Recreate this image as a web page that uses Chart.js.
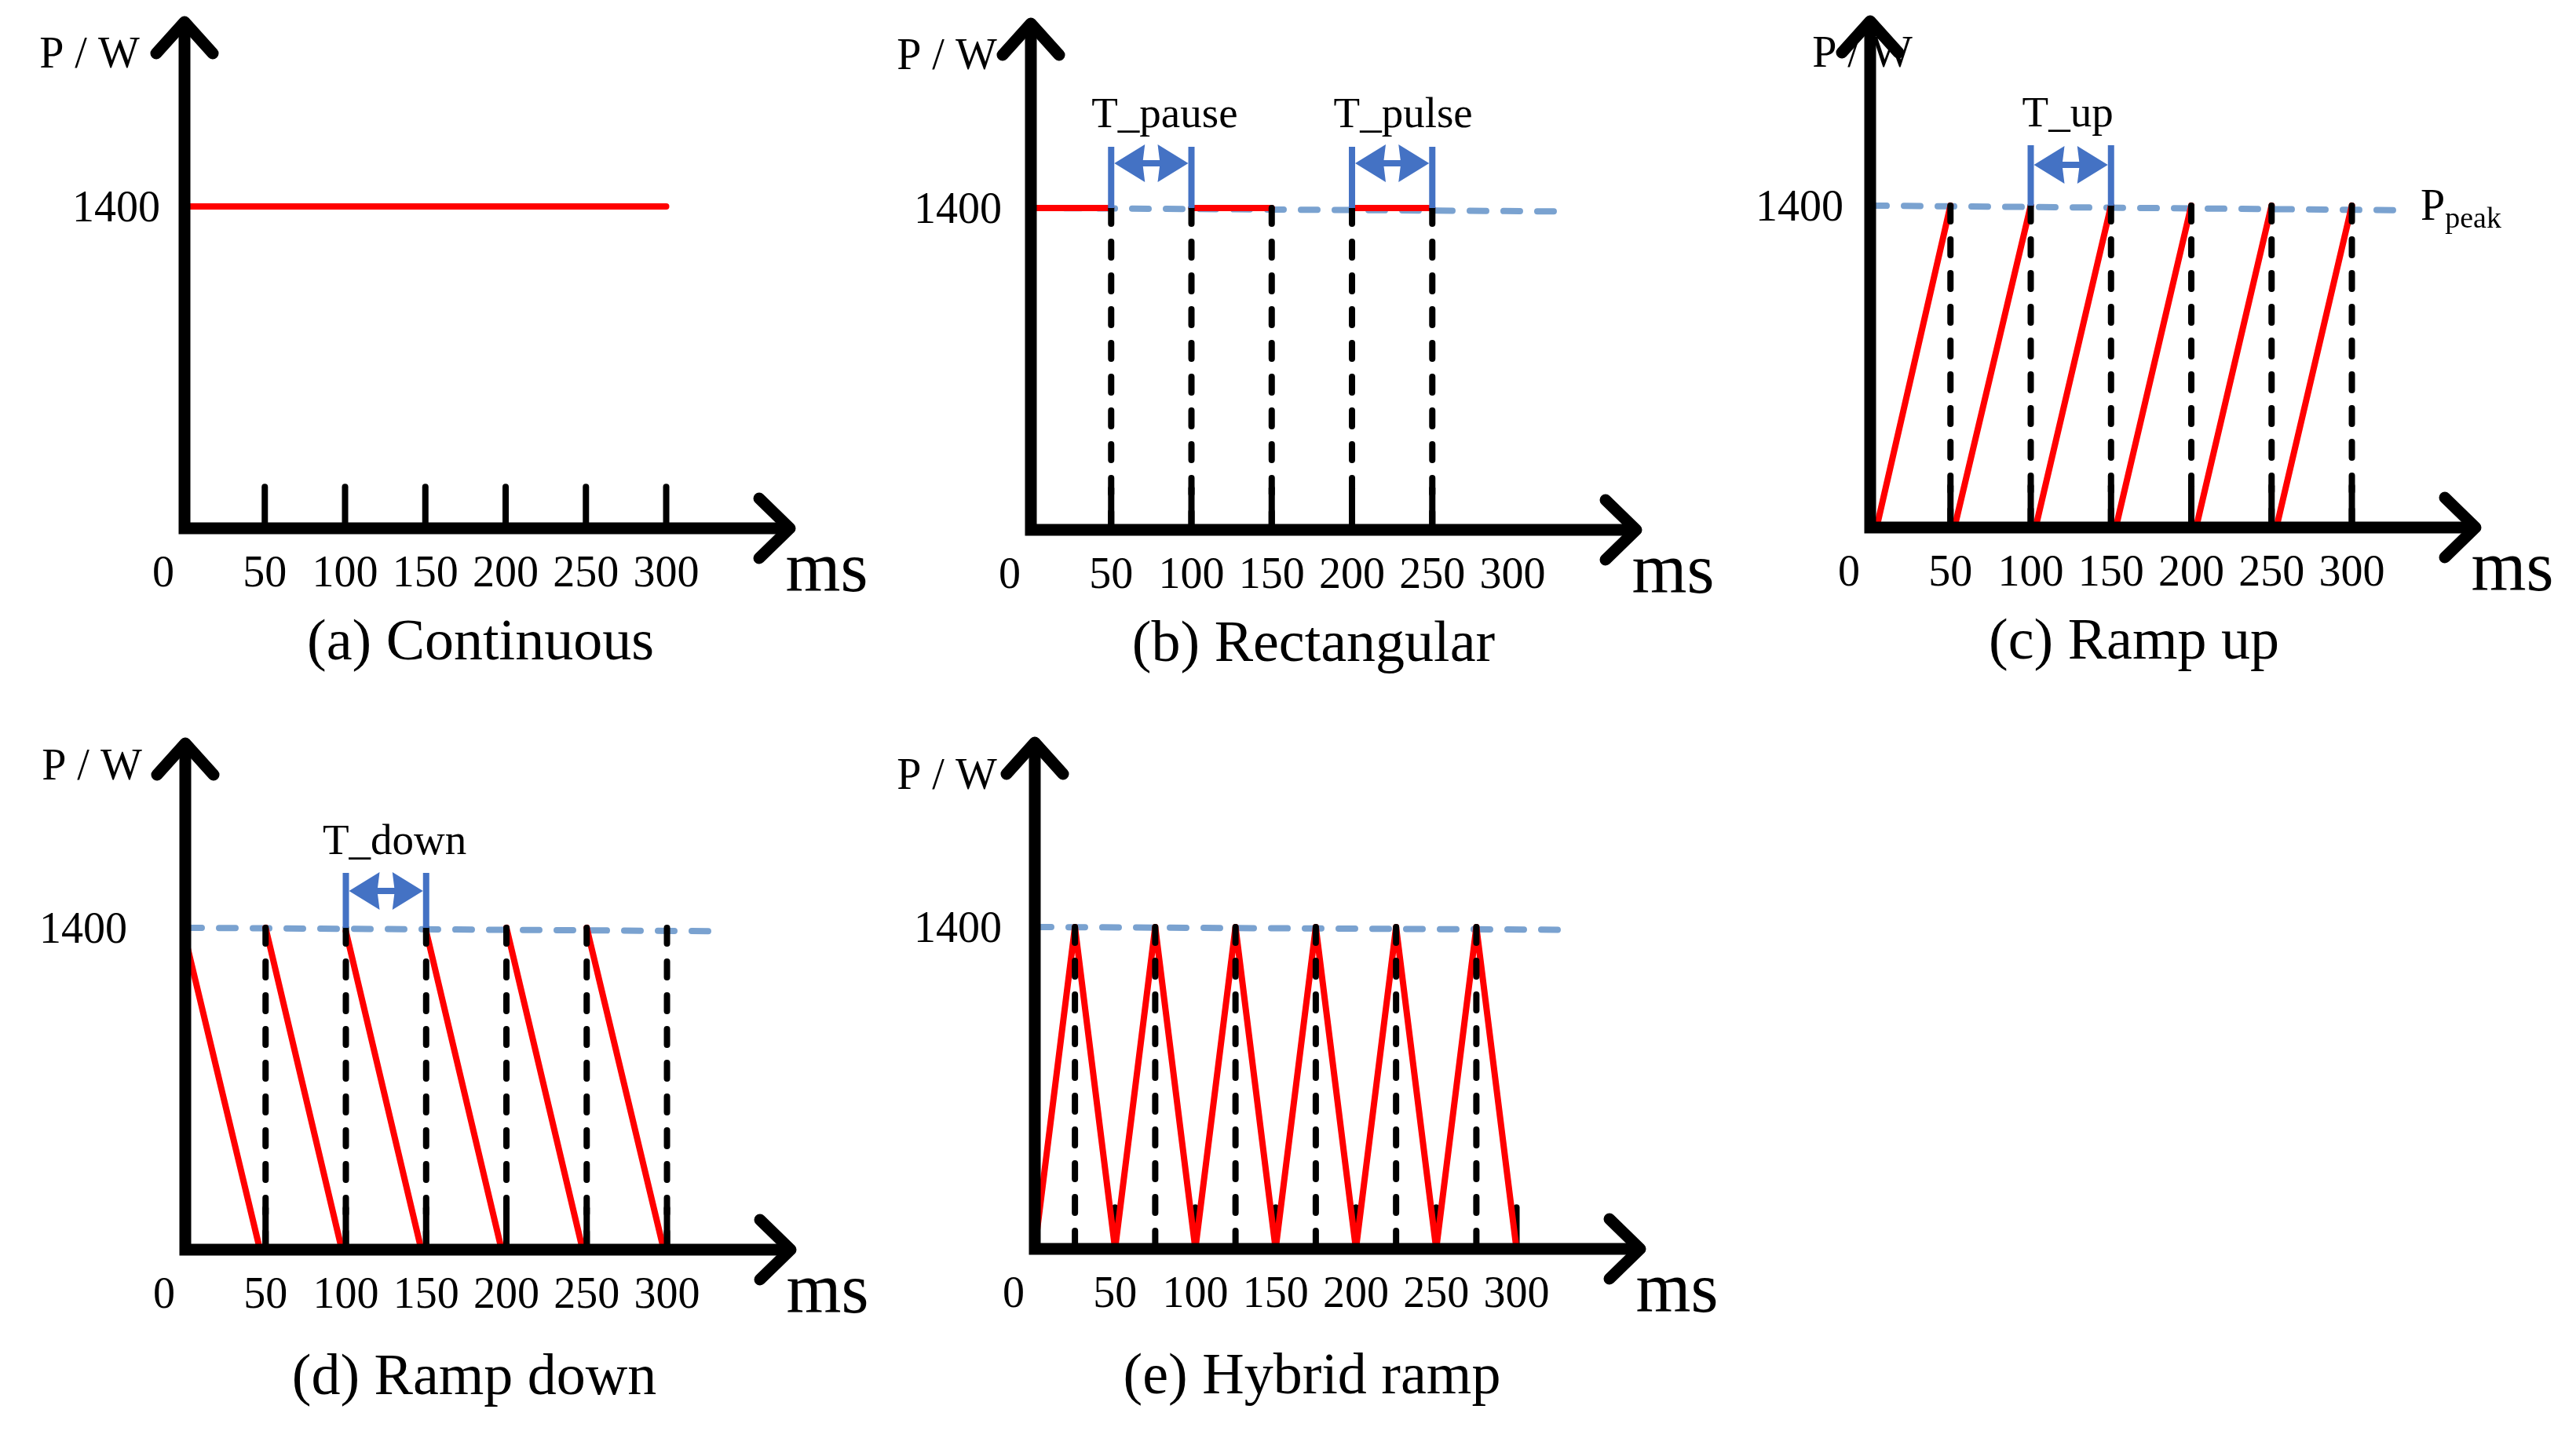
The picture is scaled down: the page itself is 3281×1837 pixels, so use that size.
<!DOCTYPE html>
<html>
<head>
<meta charset="utf-8">
<script src="https://cdn.jsdelivr.net/npm/chart.js@4.4.1/dist/chart.umd.min.js"></script>
<style>
    html, body { margin: 0; padding: 0; background: #fff; }
    #page { position: relative; width: 3281px; height: 1837px; overflow: hidden; background: #fff; }
    #page canvas { position: absolute; }
</style>
</head>
<body>
<div id="page">
    <canvas id="chartA" width="1150" height="920"></canvas>
    <canvas id="chartB" width="1150" height="920"></canvas>
    <canvas id="chartC" width="1150" height="920"></canvas>
    <canvas id="chartD" width="1150" height="920"></canvas>
    <canvas id="chartE" width="1150" height="920"></canvas>
</div>
<script>
// ---- data (time in ms, power in W) ----
const tickValues = [0, 50, 100, 150, 200, 250, 300];
const peakPower = 1400;
const tickHeight = 180;

// (a) continuous
const contTime = [0, 300];
const contPower = [1400, 1400];

// (b) rectangular
const rectOnStart = [0, 100, 200];
const rectOnEnd = [50, 150, 250];
const rectGuides = [50, 100, 150, 200, 250];

// (c) ramp up
const upStart = [4, 52.5, 103, 153, 203, 253];
const upEnd = [50, 100, 150, 200, 250, 300];
const upGuides = [50, 100, 150, 200, 250, 300];

// (d) ramp down
const downStart = [0, 50, 100, 150, 200, 250];
const downStartPower = [1355, 1400, 1385, 1385, 1400, 1400];
const downEnd = [46.5, 97.5, 147, 197, 247.5, 298];
const downGuides = [50, 100, 150, 200, 250, 300];

// (e) hybrid ramp
const hybridTime = [0, 25, 50, 75, 100, 125, 150, 175, 200, 225, 250, 275, 300];
const hybridPower = [0, 1400, 0, 1400, 0, 1400, 0, 1400, 0, 1400, 0, 1400, 0];
const hybridGuides = [25, 75, 125, 175, 225, 275];

// dashed P_peak reference line, panels b..e
const refEndTime = [328, 328, 335, 326];
const refEndPower = [1385, 1380, 1385, 1388];

const FONT = '"Liberation Serif", "Times New Roman", serif';
const RED = "#FF0000";
const REF_BLUE = "#7AA2D0";
const SPAN_BLUE = "#4472C4";

function seg(x1, y1, x2, y2) {
    return [{ x: x1, y: y1 }, { x: x2, y: y2 }];
}

function redLine(data) {
    return { data: data, borderColor: RED, borderWidth: 8, borderCapStyle: "round", borderJoinStyle: "round", order: 1 };
}

function guideLines(times) {
    return times.map((t) => ({
        data: seg(t, peakPower, t, 0), borderColor: "#000", borderWidth: 8,
        borderDash: [20, 23], borderCapStyle: "round", order: 0
    }));
}

function tickMarks(times) {
    return times.map((t) => ({
        data: seg(t, 0, t, tickHeight), borderColor: "#000", borderWidth: 8,
        borderCapStyle: "round", order: 2
    }));
}

function refLine(i) {
    return {
        data: seg(0, peakPower, refEndTime[i], refEndPower[i]), borderColor: REF_BLUE, borderWidth: 8,
        borderDash: [21, 22], borderCapStyle: "round", order: 3
    };
}

// labels, axes and span markers drawn from the scales
const decorations = {
    id: "decorations",
    afterDatasetsDraw(chart) {
        const p = chart.options.plugins.decorations;
        const ctx = chart.ctx;
        const xs = chart.scales.x, ys = chart.scales.y;
        const ox = xs.getPixelForValue(0), oy = ys.getPixelForValue(0);
        const yPeak = ys.getPixelForValue(peakPower);
        const top = chart.chartArea.top, right = chart.chartArea.right;

        ctx.save();
        ctx.fillStyle = "#000";
        ctx.textBaseline = "alphabetic";

        ctx.font = "56px " + FONT;
        ctx.textAlign = "center";
        tickValues.forEach((v) => {
            const x = v === 0 ? ox - 27 : xs.getPixelForValue(v);
            ctx.fillText(String(v), x, oy + 74);
        });
        ctx.fillText("P / W", ox + p.unitDx, oy + p.unitDy);
        ctx.textAlign = "right";
        ctx.fillText(String(peakPower), ox + p.peakDx, yPeak + 19);

        ctx.textAlign = "center";
        ctx.font = "90px " + FONT;
        ctx.fillText("ms", ox + 818, oy + 80);
        ctx.font = "74px " + FONT;
        ctx.fillText(p.caption, ox + p.captionDx, oy + p.captionDy);

        if (p.peakTag) {
            ctx.textAlign = "left";
            ctx.font = "56px " + FONT;
            const px = ox + p.peakTag;
            ctx.fillText("P", px, yPeak + 18);
            const w = ctx.measureText("P").width;
            ctx.font = "38px " + FONT;
            ctx.fillText("peak", px + w, yPeak + 28);
        }

        // span markers (T_pause, T_pulse, ...)
        p.spans.forEach((s) => {
            const x1 = xs.getPixelForValue(s.from), x2 = xs.getPixelForValue(s.to);
            const ya = yPeak - s.arrow;
            ctx.strokeStyle = SPAN_BLUE;
            ctx.fillStyle = SPAN_BLUE;
            ctx.lineWidth = 8;
            ctx.lineCap = "butt";
            ctx.beginPath();
            ctx.moveTo(x1, yPeak); ctx.lineTo(x1, yPeak - s.bar);
            ctx.moveTo(x2, yPeak); ctx.lineTo(x2, yPeak - s.bar);
            ctx.moveTo(x1 + 30, ya); ctx.lineTo(x2 - 30, ya);
            ctx.stroke();
            ctx.beginPath();
            ctx.moveTo(x1 + 4, ya); ctx.lineTo(x1 + 43, ya - 24); ctx.lineTo(x1 + 40, ya); ctx.lineTo(x1 + 43, ya + 24);
            ctx.closePath();
            ctx.moveTo(x2 - 4, ya); ctx.lineTo(x2 - 43, ya - 24); ctx.lineTo(x2 - 40, ya); ctx.lineTo(x2 - 43, ya + 24);
            ctx.closePath();
            ctx.fill();
            ctx.fillStyle = "#000";
            ctx.textAlign = "center";
            ctx.font = "55px " + FONT;
            ctx.fillText(s.label, (x1 + x2) / 2 + s.dx, yPeak + s.textDy);
        });

        // axes with open arrow heads
        ctx.strokeStyle = "#000";
        ctx.lineWidth = 15;
        ctx.lineCap = "butt";
        ctx.beginPath();
        ctx.moveTo(ox, oy + 7.5); ctx.lineTo(ox, top);
        ctx.moveTo(ox - 7.5, oy); ctx.lineTo(right, oy);
        ctx.stroke();
        ctx.lineCap = "round";
        ctx.lineJoin = "round";
        ctx.beginPath();
        ctx.moveTo(ox - 36, top + 40); ctx.lineTo(ox, top); ctx.lineTo(ox + 36, top + 40);
        ctx.moveTo(right - 39, oy - 38); ctx.lineTo(right, oy); ctx.lineTo(right - 39, oy + 38);
        ctx.stroke();
        ctx.restore();
    }
};

function makeChart(id, left, topPx, datasets, deco) {
    const canvas = document.getElementById(id);
    canvas.style.left = left + "px";
    canvas.style.top = topPx + "px";
    datasets.forEach((d) => {
        d.showLine = true;
        d.pointRadius = 0;
        d.pointHoverRadius = 0;
        d.fill = false;
        d.tension = 0;
    });
    return new Chart(canvas.getContext("2d"), {
        type: "scatter",
        data: { datasets: datasets },
        options: {
            responsive: false,
            animation: false,
            devicePixelRatio: 1,
            events: [],
            layout: { padding: { left: 250, top: 45, right: 129, bottom: 230 } },
            scales: {
                x: { type: "linear", min: 0, max: 377, display: false },
                y: { type: "linear", min: 0, max: 2202, display: false }
            },
            plugins: { legend: { display: false }, tooltip: { enabled: false }, decorations: deco }
        },
        plugins: [decorations]
    });
}

function build() {
    const allTicks = tickValues.slice(1);

    // (a)
    makeChart("chartA", -15, -17,
        [redLine(contTime.map((t, i) => ({ x: t, y: contPower[i] })))].concat(tickMarks(allTicks)),
        { caption: "(a) Continuous", unitDx: -121, unitDy: -587, peakDx: -31, captionDx: 377, captionDy: 167, spans: [] });

    // (b)
    makeChart("chartB", 1062.5, -15.5,
        rectOnStart.map((t, i) => redLine(seg(t, peakPower, rectOnEnd[i], peakPower)))
            .concat(guideLines(rectGuides), tickMarks(rectGuides), [refLine(0)]),
        {
            caption: "(b) Rectangular", unitDx: -107, unitDy: -587, peakDx: -37, captionDx: 360, captionDy: 167,
            spans: [
                { label: "T_pause", from: 50, to: 100, dx: 17, bar: 78, arrow: 57, textDy: -103 },
                { label: "T_pulse", from: 200, to: 250, dx: 14, bar: 78, arrow: 57, textDy: -103 }
            ]
        });

    // (c)
    makeChart("chartC", 2132, -18,
        upStart.map((t, i) => redLine(seg(t, 0, upEnd[i], peakPower)))
            .concat(guideLines(upGuides), tickMarks(upGuides), [refLine(1)]),
        {
            caption: "(c) Ramp up", unitDx: -10, unitDy: -587, peakDx: -34, captionDx: 336, captionDy: 167, peakTag: 701,
            spans: [{ label: "T_up", from: 100, to: 150, dx: -4, bar: 77, arrow: 52, textDy: -101 }]
        });

    // (d)
    makeChart("chartD", -14.5, 902,
        downStart.map((t, i) => redLine(seg(t, downStartPower[i], downEnd[i], 0)))
            .concat(guideLines(downGuides), tickMarks(downGuides), [refLine(2)]),
        {
            caption: "(d) Ramp down", unitDx: -119, unitDy: -599, peakDx: -74, captionDx: 368, captionDy: 184,
            spans: [{ label: "T_down", from: 100, to: 150, dx: 11, bar: 70, arrow: 47, textDy: -94 }]
        });

    // (e)
    makeChart("chartE", 1067.5, 901,
        [redLine(hybridTime.map((t, i) => ({ x: t, y: hybridPower[i] })))]
            .concat(guideLines(hybridGuides), tickMarks(allTicks), [refLine(3)]),
        { caption: "(e) Hybrid ramp", unitDx: -112, unitDy: -586, peakDx: -42, captionDx: 353, captionDy: 184, spans: [] });
}

document.fonts.load("56px " + FONT).then(build, build);
</script>
</body>
</html>
